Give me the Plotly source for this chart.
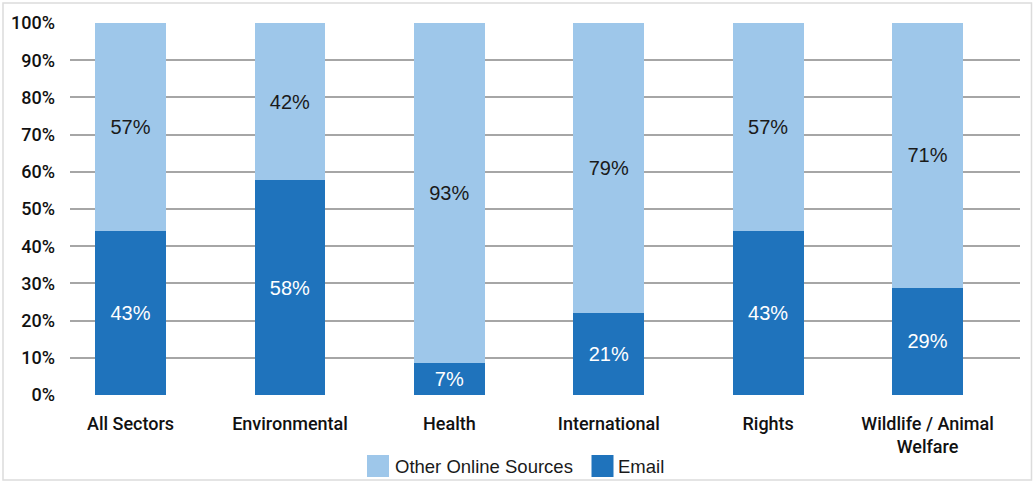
import plotly.graph_objects as go

categories = ["All Sectors", "Environmental", "Health", "International", "Rights",
              "Wildlife / Animal<br>Welfare"]
email_share = [44.2, 57.7, 8.6, 22.1, 44.2, 28.8]
other_share = [55.8, 42.3, 91.4, 77.9, 55.8, 71.2]
email_labels = ["43%", "58%", "7%", "21%", "43%", "29%"]
other_labels = ["57%", "42%", "93%", "79%", "57%", "71%"]
y_ticks = [0, 10, 20, 30, 40, 50, 60, 70, 80, 90, 100]
y_tick_labels = [f"{v}%" for v in y_ticks]

EMAIL_C = "#1f73bc"
OTHER_C = "#9ec7ea"
FONT = "Liberation Sans, Arial, sans-serif"
AXFONT = "Roboto, Liberation Sans, Arial, sans-serif"

x = list(range(len(categories)))

fig = go.Figure()
fig.add_trace(go.Bar(
    x=x, y=email_share, name="Email", marker=dict(color=EMAIL_C, line=dict(width=0)),
    text=email_labels, textposition="inside", insidetextanchor="middle",
    textangle=0, constraintext="none",
    textfont=dict(color="white", size=20, family=FONT), width=0.445,
    showlegend=False,
))
fig.add_trace(go.Bar(
    x=x, y=other_share, name="Other Online Sources", marker=dict(color=OTHER_C, line=dict(width=0)),
    text=other_labels, textposition="inside", insidetextanchor="middle",
    textangle=0, constraintext="none",
    textfont=dict(color="#1a1a1a", size=20, family=FONT), width=0.445,
    showlegend=False,
))

W, H = 1034, 482
L, R, T, B = 70, 14, 23, 87
pw, ph = W - L - R, H - T - B

def px(xp):
    return (xp - L) / pw

def py(yp):
    return (H - B - yp) / ph

shapes = [
    dict(type="rect", xref="paper", yref="paper", x0=px(3), x1=px(1031.5), y0=py(3), y1=py(480),
         line=dict(color="#dcdcdc", width=1.5), fillcolor="rgba(0,0,0,0)", layer="below"),
    dict(type="rect", xref="paper", yref="paper", x0=px(367), x1=px(389), y0=py(477), y1=py(455),
         line=dict(width=0), fillcolor=OTHER_C),
    dict(type="rect", xref="paper", yref="paper", x0=px(591.5), x1=px(613.5), y0=py(477), y1=py(455),
         line=dict(width=0), fillcolor=EMAIL_C),
]
annotations = [
    dict(text="Other Online Sources", xref="paper", yref="paper", x=px(393), y=py(466),
         xanchor="left", yanchor="middle", showarrow=False,
         font=dict(size=18.5, color="#1a1a1a", family=FONT)),
    dict(text="Email", xref="paper", yref="paper", x=px(616), y=py(466),
         xanchor="left", yanchor="middle", showarrow=False,
         font=dict(size=18.5, color="#1a1a1a", family=FONT)),
]

fig.update_layout(
    width=W, height=H,
    margin=dict(l=L, r=R, t=T, b=B),
    barmode="stack",
    paper_bgcolor="white", plot_bgcolor="white",
    font=dict(family=FONT, color="#111111"),
    shapes=shapes, annotations=annotations,
    xaxis=dict(
        range=[-0.38, 5.58], tickmode="array", tickvals=x, ticktext=categories,
        showgrid=False, zeroline=False, showline=False, ticks="",
        tickfont=dict(size=18, family=AXFONT, color="#111111", weight=500),
        ticklabelstandoff=16, fixedrange=True,
    ),
    yaxis=dict(
        range=[0, 100], tickmode="array", tickvals=y_ticks, ticktext=y_tick_labels,
        showgrid=True, gridcolor="#a6a6a6", gridwidth=1.5, zeroline=False, showline=False,
        ticks="", tickfont=dict(size=18, family=AXFONT, color="#111111", weight=500),
        ticklabelstandoff=14, fixedrange=True,
    ),
)

fig.write_html("out.html", config={"displayModeBar": False},
               post_script="document.body.style.margin='0';")
